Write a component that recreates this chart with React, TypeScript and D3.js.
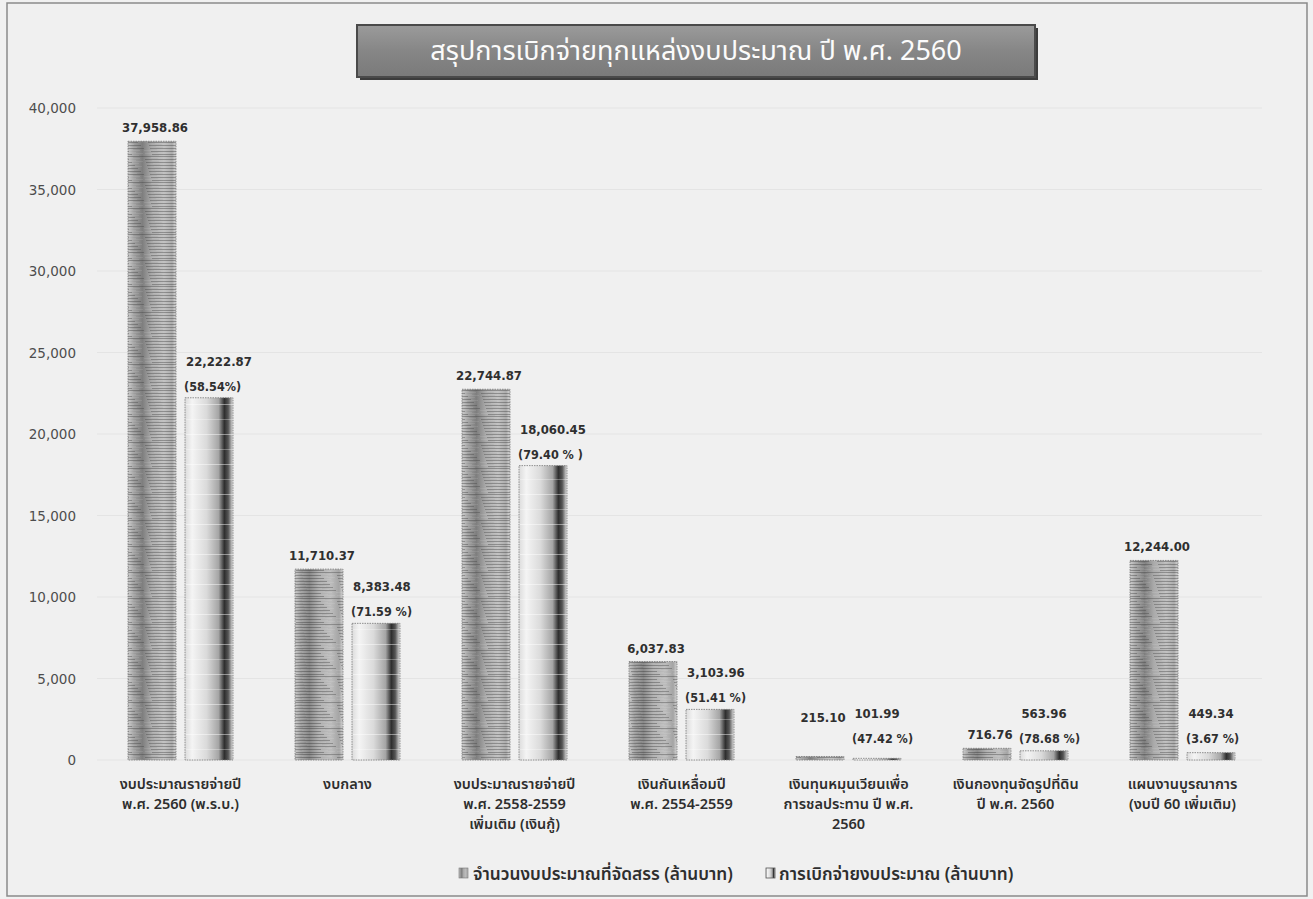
import React from "react";
import * as d3 from "d3";

const TITLE = "สรุปการเบิกจ่ายทุกแหล่งงบประมาณ ปี พ.ศ. 2560";

const categories = [
  ["งบประมาณรายจ่ายปี", "พ.ศ. 2560 (พ.ร.บ.)"],
  ["งบกลาง"],
  ["งบประมาณรายจ่ายปี", "พ.ศ. 2558-2559", "เพิ่มเติม (เงินกู้)"],
  ["เงินกันเหลื่อมปี", "พ.ศ. 2554-2559"],
  ["เงินทุนหมุนเวียนเพื่อ", "การชลประทาน ปี พ.ศ.", "2560"],
  ["เงินกองทุนจัดรูปที่ดิน", "ปี พ.ศ. 2560"],
  ["แผนงานบูรณาการ", "(งบปี 60 เพิ่มเติม)"],
];

const allocated = [37958.86, 11710.37, 22744.87, 6037.83, 215.1, 716.76, 12244.0];
const disbursed = [22222.87, 8383.48, 18060.45, 3103.96, 101.99, 563.96, 449.34];
const percentLabels = ["(58.54%)", "(71.59 %)", "(79.40 % )", "(51.41 %)", "(47.42 %)", "(78.68 %)", "(3.67 %)"];

const yTicks = [0, 5000, 10000, 15000, 20000, 25000, 30000, 35000, 40000];

const seriesNames = ["จำนวนงบประมาณที่จัดสรร (ล้านบาท)", "การเบิกจ่ายงบประมาณ (ล้านบาท)"];

const W = 1313;
const H = 899;
const THAI = "Tahoma, 'Noto Sans Thai', 'Noto Sans Thai UI', Garuda, Loma, 'Noto Sans', sans-serif";
const NUM = "'DejaVu Sans Condensed', 'DejaVu Sans', Tahoma, sans-serif";

export default function App() {
  const keys = categories.map((_, i) => String(i));
  const x0 = d3.scaleBand<string>().domain(keys).range([97, 1266]).padding(0);
  const x1 = d3.scaleBand<string>().domain(["a", "b"]).range([31, 136]).paddingInner(0.158);
  const y = d3.scaleLinear().domain([0, 40000]).range([760, 108]);
  const fmt = d3.format(",.2f");
  const bw = x1.bandwidth();

  const streaks = d3.range(0, 26, 1);

  return (
    <svg width={W} height={H} style={{ position: "absolute", left: 0, top: 0 }}>
      <defs>
        <linearGradient id="g1" x1="0" x2="1" y1="0" y2="0">
          <stop offset="0" stopColor="#c8c8c8" />
          <stop offset="0.12" stopColor="#a0a0a0" />
          <stop offset="0.3" stopColor="#7e7e7e" />
          <stop offset="0.5" stopColor="#ababab" />
          <stop offset="0.75" stopColor="#bdbdbd" />
          <stop offset="0.92" stopColor="#a4a4a4" />
          <stop offset="1" stopColor="#d2d2d2" />
        </linearGradient>
        <linearGradient id="g2" x1="0" x2="1" y1="0" y2="0">
          <stop offset="0" stopColor="#dcdcdc" />
          <stop offset="0.15" stopColor="#f4f4f4" />
          <stop offset="0.45" stopColor="#dadada" />
          <stop offset="0.7" stopColor="#a5a5a5" />
          <stop offset="0.82" stopColor="#2e2e2e" />
          <stop offset="0.9" stopColor="#555" />
          <stop offset="1" stopColor="#e0e0e0" />
        </linearGradient>
        <pattern id="p1" patternUnits="userSpaceOnUse" width="48" height="26">
          {streaks.map((s) => (
            <line
              key={s}
              x1={(s * 7) % 20}
              x2={48 - ((s * 11) % 18)}
              y1={s + 0.5}
              y2={s + 0.5}
              stroke={s % 3 === 0 ? "#3a3a3a" : "#ffffff"}
              strokeOpacity={s % 3 === 0 ? 0.4 : 0.16}
              strokeWidth={s % 3 === 0 ? 0.9 : 0.6}
            />
          ))}
        </pattern>
        <pattern id="p2" patternUnits="userSpaceOnUse" width="48" height="30">
          <line x1="0" x2="48" y1="14.5" y2="14.5" stroke="#fff" strokeOpacity="0.45" />
          <line x1="0" x2="48" y1="29.5" y2="29.5" stroke="#fff" strokeOpacity="0.3" />
        </pattern>
        <linearGradient id="gt" x1="0" x2="0" y1="0" y2="1">
          <stop offset="0" stopColor="#9b9b9b" />
          <stop offset="0.5" stopColor="#868686" />
          <stop offset="1" stopColor="#7a7a7a" />
        </linearGradient>
      </defs>

      {/* background & frame */}
      <rect x={0} y={0} width={W} height={H} fill="#f1f1f1" />
      <rect x={7} y={3} width={1300} height={893} fill="#f0f0f0" stroke="#8a8a8a" strokeWidth={1.5} />

      {/* title */}
      <rect x={360} y={28} width={678} height={52} fill="#3c3c3c" />
      <rect x={357} y={25} width={678} height={52} fill="url(#gt)" stroke="#4a4a4a" strokeWidth={2} />
      <text x={696} y={60} textAnchor="middle" fill="#fbfbfb" fontFamily={THAI} fontSize={27}>
        {TITLE}
      </text>

      {/* gridlines */}
      {yTicks.map((t) => (
        <line key={t} x1={97} x2={1262} y1={y(t)} y2={y(t)} stroke="#e4e4e4" strokeWidth={1} />
      ))}

      {/* y axis labels */}
      {yTicks.map((t) => (
        <text
          key={"l" + t}
          x={76}
          y={y(t) + 5}
          textAnchor="end"
          fill="#4d4d4d"
          fontFamily="'DejaVu Sans', Tahoma, sans-serif"
          fontSize={13.5}
        >
          {d3.format(",")(t)}
        </text>
      ))}

      {/* bars */}
      {keys.map((k, i) => {
        const gx = x0(k)!;
        const ax = gx + x1("a")!;
        const bx = gx + x1("b")!;
        const ay = y(allocated[i]);
        const by = y(disbursed[i]);
        const ah = y(0) - ay;
        const bh = y(0) - by;
        const partnerBase = Math.min(by, 750) - 32;
        const aLabelY = ah < 8 ? partnerBase + 4 : ay - 9;
        const bValStr = fmt(disbursed[i]);
        const bValX = bValStr.length > 6 ? bx + 1 : bx + bw / 2;
        const bValAnchor = bValStr.length > 6 ? "start" : "middle";
        return (
          <g key={k}>
            <rect x={ax} y={ay} width={bw} height={ah} fill="url(#g1)" />
            <rect x={ax} y={ay} width={bw} height={ah} fill="url(#p1)" />
            <rect x={ax} y={ay} width={bw} height={ah} fill="none" stroke="#777" strokeWidth={0.8} strokeDasharray="1.5 1" />
            <rect x={bx} y={by} width={bw} height={bh} fill="url(#g2)" />
            <rect x={bx} y={by} width={bw} height={bh} fill="url(#p2)" />
            <rect x={bx} y={by} width={bw} height={bh} fill="none" stroke="#777" strokeWidth={0.8} strokeDasharray="1.5 1" />

            <text
              x={ax + bw / 2 + 3}
              y={aLabelY}
              textAnchor="middle"
              fill="#2f2f2f"
              fontFamily={NUM}
              fontWeight="bold"
              fontSize={13}
            >
              {fmt(allocated[i])}
            </text>
            <text
              x={bValX}
              y={Math.min(by, 750) - 32}
              textAnchor={bValAnchor}
              fill="#2f2f2f"
              fontFamily={NUM}
              fontWeight="bold"
              fontSize={13}
            >
              {bValStr}
            </text>
            <text
              x={bx - 1}
              y={Math.min(by, 750) - 7}
              textAnchor="start"
              fill="#2f2f2f"
              fontFamily={NUM}
              fontWeight="bold"
              fontSize={12.5}
            >
              {percentLabels[i]}
            </text>

            {categories[i].map((line, j) => (
              <text
                key={j}
                x={gx + x0.bandwidth() / 2}
                y={789 + j * 20}
                textAnchor="middle"
                fill="#2e2e2e"
                fontFamily={THAI}
                fontWeight={600}
                fontSize={14.5}
              >
                {line}
              </text>
            ))}
          </g>
        );
      })}

      {/* legend */}
      <g>
        <rect x={459} y={868} width={9} height={10} fill="url(#g1)" stroke="#777" strokeWidth={0.6} />
        <text x={473} y={880} fill="#2e2e2e" fontFamily={THAI} fontWeight={600} fontSize={17.3}>
          {seriesNames[0]}
        </text>
        <rect x={766} y={868} width={9} height={10} fill="url(#g2)" stroke="#555" strokeWidth={0.8} />
        <text x={779} y={880} fill="#2e2e2e" fontFamily={THAI} fontWeight={600} fontSize={17.3}>
          {seriesNames[1]}
        </text>
      </g>
    </svg>
  );
}
